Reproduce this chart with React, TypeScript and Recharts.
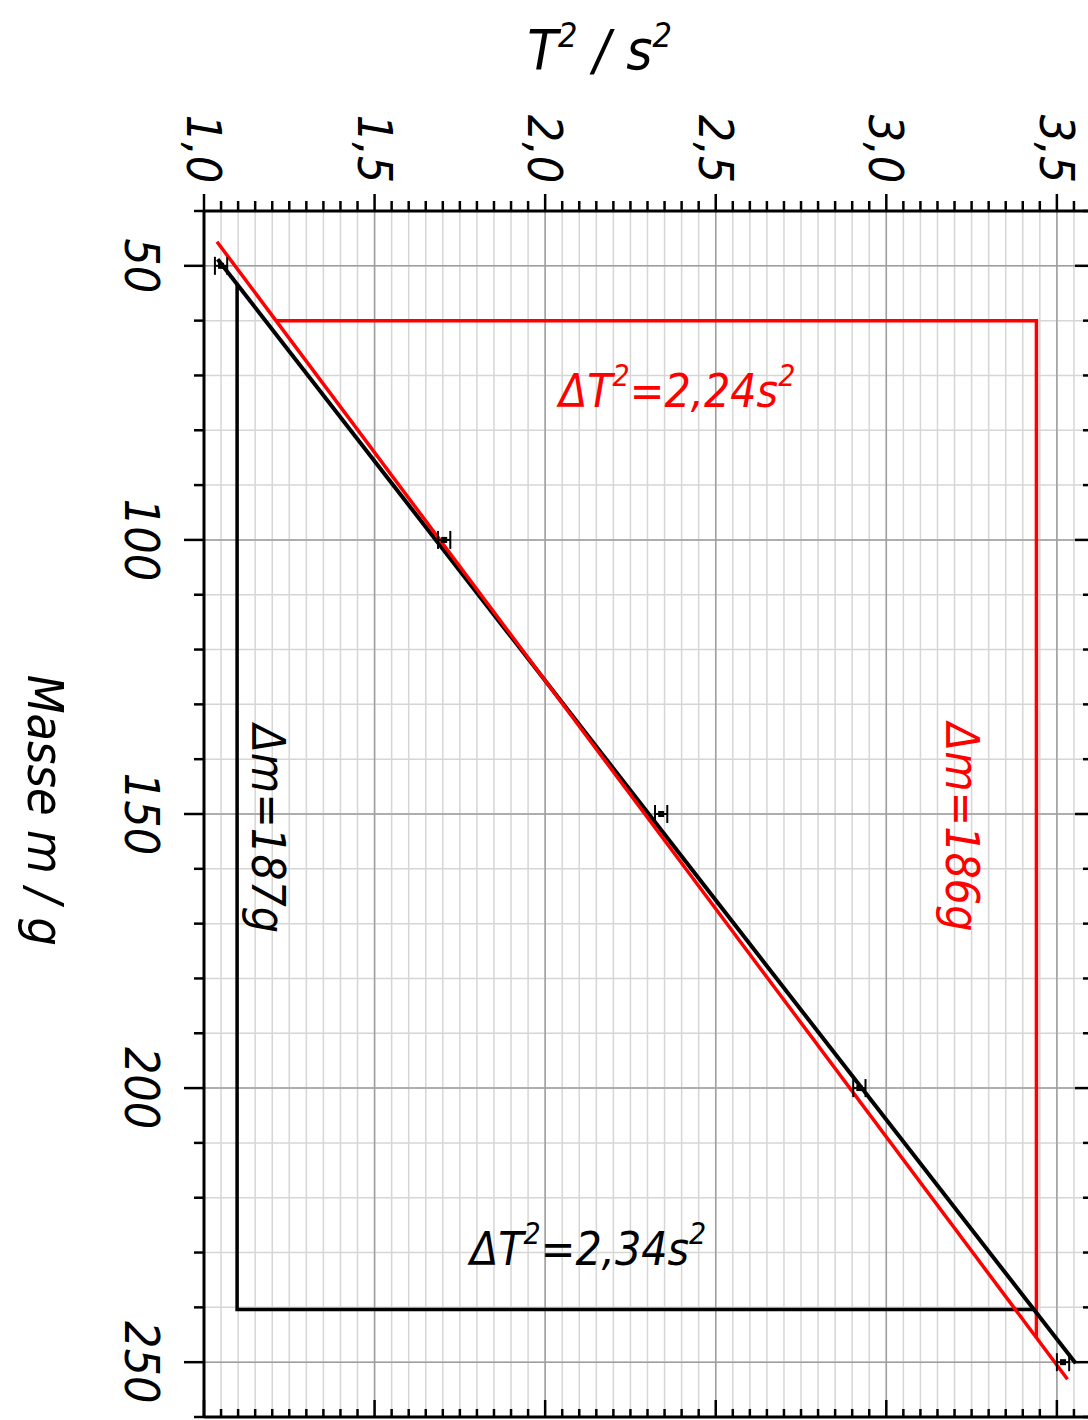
import React from "react";
import {
  ComposedChart,
  CartesianGrid,
  XAxis,
  YAxis,
  Line,
  Scatter,
  ErrorBar,
  ReferenceLine,
  ReferenceDot,
} from "recharts";

// measured points: T^2 in s^2, mass in g, horizontal error in s^2
const MEASURED = [
  { t: 1.05, m: 50, err: 0.018 },
  { t: 1.704, m: 100, err: 0.018 },
  { t: 2.34, m: 150, err: 0.018 },
  { t: 2.921, m: 200, err: 0.018 },
  { t: 3.518, m: 250, err: 0.018 },
];

// hand drawn fit lines (endpoints)
const FIT_BLACK = [
  { t: 1.04, m: 48.8 },
  { t: 3.555, m: 250.2 },
];
const FIT_RED = [
  { t: 1.038, m: 45.6 },
  { t: 3.531, m: 253.1 },
];

// slope triangles
const TRI_BLACK = [
  { t: 1.097, m: 53.5 },
  { t: 1.097, m: 240.4 },
  { t: 3.432, m: 240.4 },
];
const TRI_RED = [
  { t: 1.212, m: 60 },
  { t: 3.44, m: 60 },
  { t: 3.44, m: 245.6 },
];

const X_MAJOR = [1.0, 1.5, 2.0, 2.5, 3.0, 3.5];
const X_LABELS = ["1,0", "1,5", "2,0", "2,5", "3,0", "3,5"];
const X_MINOR = Array.from({ length: 53 }, (_, i) => Math.round((1 + i * 0.05) * 100) / 100);

const Y_MAJOR = [50, 100, 150, 200, 250];
const Y_LABELS = ["50", "100", "150", "200", "250"];
const Y_MINOR = Array.from({ length: 23 }, (_, i) => 40 + i * 10);

const FONT = "'DejaVu Sans Condensed', 'DejaVu Sans', sans-serif";
const RED = "#ff0000";

function majorIndex(list: number[], v: number) {
  return list.findIndex((m) => Math.abs(m - v) < 1e-6);
}

function TopTick(props: any) {
  const { x, y, payload } = props;
  const idx = majorIndex(X_MAJOR, payload.value);
  const ly = y - 62;
  return (
    <g>
      <line x1={x} y1={y} x2={x} y2={y - (idx >= 0 ? 17 : 10)} stroke="#000" strokeWidth={2.5} />
      {idx >= 0 && (
        <text
          x={x}
          y={ly}
          transform={`rotate(90 ${x} ${ly})`}
          textAnchor="middle"
          dominantBaseline="central"
          fontFamily={FONT}
          fontStyle="italic"
          fontSize={48}
          fill="#000"
        >
          {X_LABELS[idx]}
        </text>
      )}
    </g>
  );
}

function BottomTick(props: any) {
  const { x, y, payload } = props;
  const idx = majorIndex(X_MAJOR, payload.value);
  return <line x1={x} y1={y} x2={x} y2={y - (idx >= 0 ? 17 : 8)} stroke="#000" strokeWidth={2.5} />;
}

function LeftTick(props: any) {
  const { x, y, payload } = props;
  const idx = majorIndex(Y_MAJOR, payload.value);
  const lx = x - 62;
  return (
    <g>
      <line x1={x} y1={y} x2={x - (idx >= 0 ? 20 : 10)} y2={y} stroke="#000" strokeWidth={2.5} />
      {idx >= 0 && (
        <text
          x={lx}
          y={y}
          transform={`rotate(90 ${lx} ${y})`}
          textAnchor="middle"
          dominantBaseline="central"
          fontFamily={FONT}
          fontStyle="italic"
          fontSize={48}
          fill="#000"
        >
          {Y_LABELS[idx]}
        </text>
      )}
    </g>
  );
}

function RightTick(props: any) {
  const { x, y, payload } = props;
  const idx = majorIndex(Y_MAJOR, payload.value);
  return <line x1={x} y1={y} x2={x - (idx >= 0 ? 16 : 8)} y2={y} stroke="#000" strokeWidth={2.5} />;
}

function TopTitle({ viewBox }: any) {
  const cx = viewBox.x + viewBox.width * 0.446;
  const cy = viewBox.y + 58;
  return (
    <text x={cx} y={cy} textAnchor="middle" fontFamily={FONT} fontStyle="italic" fontSize={56} fill="#000">
      T<tspan fontSize={34} dy={-22}>2</tspan>
      <tspan dy={22}> / s</tspan>
      <tspan fontSize={34} dy={-22}>2</tspan>
    </text>
  );
}

function LeftTitle({ viewBox }: any) {
  const cx = viewBox.x + 41;
  const cy = viewBox.y + viewBox.height * 0.497;
  return (
    <text
      x={cx}
      y={cy}
      transform={`rotate(90 ${cx} ${cy})`}
      textAnchor="middle"
      dominantBaseline="central"
      fontFamily={FONT}
      fontStyle="italic"
      fontSize={50}
      fill="#000"
    >
      Masse m / g
    </text>
  );
}

function deltaT(value: string, color: string) {
  return (p: any) => (
    <text x={p.cx} y={p.cy} textAnchor="middle" dominantBaseline="central" fontFamily={FONT} fontStyle="italic" fontSize={46} fill={color}>
      ΔT<tspan fontSize={30} dy={-16}>2</tspan>
      <tspan dy={16}>={value}s</tspan>
      <tspan fontSize={30} dy={-16}>2</tspan>
    </text>
  );
}

function deltaM(value: string, color: string) {
  return (p: any) => (
    <text
      x={p.cx}
      y={p.cy}
      transform={`rotate(90 ${p.cx} ${p.cy})`}
      textAnchor="middle"
      dominantBaseline="central"
      fontFamily={FONT}
      fontStyle="italic"
      fontSize={46}
      fill={color}
    >
      {`Δm=${value}g`}
    </text>
  );
}

function PointShape(p: any) {
  return <rect x={p.cx - 3} y={p.cy - 3} width={6} height={6} fill="#000" />;
}

export default function App() {
  return (
    <div
      style={{
        position: "absolute",
        left: 0,
        top: 0,
        width: 1088,
        height: 1420,
        overflow: "hidden",
        background: "#fff",
      }}
    >
      <ComposedChart width={1100} height={1440} margin={{ top: 11, left: 4, right: 8, bottom: 22 }}>
        <CartesianGrid xAxisId="top" yAxisId="left" stroke="#d6d6d6" strokeWidth={1.5} />
        <XAxis
          xAxisId="top"
          orientation="top"
          type="number"
          dataKey="t"
          domain={[1, 3.6]}
          ticks={X_MINOR}
          interval={0}
          height={200}
          allowDataOverflow
          tickSize={0}
          tickMargin={0}
          tickLine={false}
          tick={<TopTick />}
          axisLine={{ stroke: "#000", strokeWidth: 3 }}
          label={{ value: "T2/s2", content: (p: any) => <TopTitle viewBox={p.viewBox} /> }}
        />
        <XAxis
          xAxisId="bottom"
          orientation="bottom"
          type="number"
          dataKey="t"
          domain={[1, 3.6]}
          ticks={X_MINOR}
          interval={0}
          height={1}
          allowDataOverflow
          tickSize={0}
          tickMargin={0}
          tickLine={false}
          tick={<BottomTick />}
          axisLine={{ stroke: "#000", strokeWidth: 3 }}
        />
        <YAxis
          yAxisId="left"
          orientation="left"
          type="number"
          dataKey="m"
          domain={[40, 260]}
          reversed
          ticks={Y_MINOR}
          interval={0}
          width={200}
          allowDataOverflow
          tickSize={0}
          tickMargin={0}
          tickLine={false}
          tick={<LeftTick />}
          axisLine={{ stroke: "#000", strokeWidth: 3 }}
          label={{ value: "Masse m / g", content: (p: any) => <LeftTitle viewBox={p.viewBox} /> }}
        />
        <YAxis
          yAxisId="right"
          orientation="right"
          type="number"
          domain={[40, 260]}
          reversed
          ticks={Y_MINOR}
          interval={0}
          width={1}
          allowDataOverflow
          tickSize={0}
          tickMargin={0}
          tickLine={false}
          tick={<RightTick />}
          axisLine={{ stroke: "#000", strokeWidth: 3 }}
        />
        {X_MAJOR.map((v) => (
          <ReferenceLine key={`gx${v}`} xAxisId="top" yAxisId="left" x={v} stroke="#9e9e9e" strokeWidth={1.5} />
        ))}
        {Y_MAJOR.map((v) => (
          <ReferenceLine key={`gy${v}`} xAxisId="top" yAxisId="left" y={v} stroke="#9e9e9e" strokeWidth={1.5} />
        ))}
        <Line xAxisId="top" yAxisId="left" data={TRI_BLACK} dataKey="m" type="linear" stroke="#000" strokeWidth={3.5} dot={false} isAnimationActive={false} />
        <Line xAxisId="top" yAxisId="left" data={TRI_RED} dataKey="m" type="linear" stroke={RED} strokeWidth={3.5} dot={false} isAnimationActive={false} />
        <Line xAxisId="top" yAxisId="left" data={FIT_BLACK} dataKey="m" type="linear" stroke="#000" strokeWidth={4} dot={false} isAnimationActive={false} />
        <Line xAxisId="top" yAxisId="left" data={FIT_RED} dataKey="m" type="linear" stroke={RED} strokeWidth={3.5} dot={false} isAnimationActive={false} />
        <Scatter xAxisId="top" yAxisId="left" data={MEASURED} shape={<PointShape />} isAnimationActive={false}>
          <ErrorBar dataKey="err" direction="x" width={9} stroke="#000" strokeWidth={2} />
        </Scatter>
        <ReferenceDot xAxisId="top" yAxisId="left" x={2.387} y={72.8} r={0} shape={deltaT("2,24", RED)} />
        <ReferenceDot xAxisId="top" yAxisId="left" x={2.126} y={229.4} r={0} shape={deltaT("2,34", "#000")} />
        <ReferenceDot xAxisId="top" yAxisId="left" x={1.188} y={152.7} r={0} shape={deltaM("187", "#000")} />
        <ReferenceDot xAxisId="top" yAxisId="left" x={3.223} y={152.4} r={0} shape={deltaM("186", RED)} />
      </ComposedChart>
    </div>
  );
}
